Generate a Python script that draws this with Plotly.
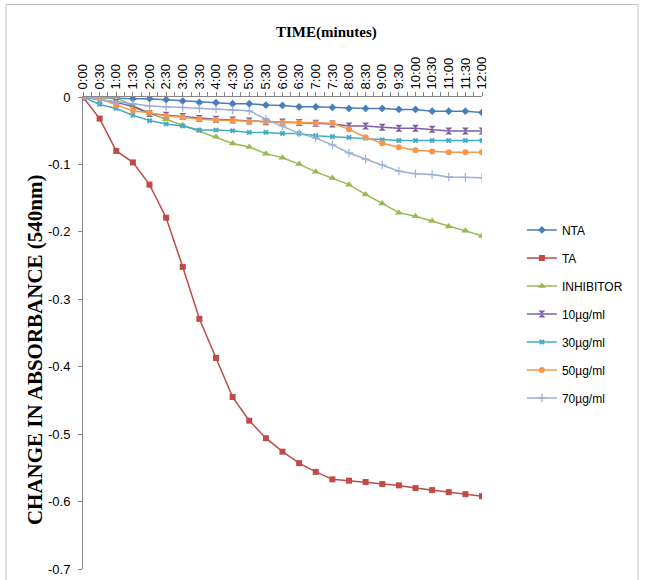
import plotly.graph_objects as go

# Time points, every 30 minutes from 0:00 to 12:00
time_labels = ["0:00", "0:30", "1:00", "1:30", "2:00", "2:30", "3:00", "3:30",
               "4:00", "4:30", "5:00", "5:30", "6:00", "6:30", "7:00", "7:30",
               "8:00", "8:30", "9:00", "9:30", "10:00", "10:30", "11:00",
               "11:30", "12:00"]

# Change in absorbance at 540 nm
nta = [0, -0.001, -0.0015, -0.0025, -0.0025, -0.004, -0.006, -0.008, -0.0085,
       -0.010, -0.010, -0.012, -0.0125, -0.0145, -0.0145, -0.0155, -0.017,
       -0.017, -0.017, -0.0185, -0.0185, -0.021, -0.021, -0.021, -0.023]
ta = [0, -0.032, -0.080, -0.097, -0.130, -0.179, -0.252, -0.329, -0.387,
      -0.445, -0.480, -0.506, -0.526, -0.543, -0.556, -0.567, -0.569, -0.571,
      -0.574, -0.576, -0.580, -0.583, -0.586, -0.589, -0.592]
inhibitor = [0, -0.001, -0.001, -0.013, -0.024, -0.033, -0.042, -0.050, -0.059,
             -0.069, -0.074, -0.084, -0.090, -0.0995, -0.111, -0.120, -0.130,
             -0.1445, -0.158, -0.1715, -0.177, -0.184, -0.192, -0.1985, -0.206]
c10 = [0, -0.004, -0.008, -0.014, -0.0245, -0.027, -0.029, -0.0318, -0.033,
       -0.034, -0.0357, -0.0367, -0.037, -0.0377, -0.039, -0.040, -0.043,
       -0.043, -0.045, -0.0465, -0.0465, -0.048, -0.0505, -0.0505, -0.0505]
c30 = [0, -0.011, -0.017, -0.027, -0.035, -0.040, -0.043, -0.049, -0.049,
       -0.050, -0.0525, -0.0525, -0.054, -0.054, -0.0573, -0.0588, -0.0598,
       -0.061, -0.0635, -0.0645, -0.0645, -0.0645, -0.0645, -0.0645, -0.0645]
c50 = [0, -0.0015, -0.012, -0.0205, -0.0235, -0.028, -0.030, -0.033, -0.034,
       -0.035, -0.0367, -0.0367, -0.0377, -0.038, -0.039, -0.039, -0.048,
       -0.0597, -0.0686, -0.0745, -0.079, -0.081, -0.082, -0.082, -0.082]
c70 = [0, -0.004, -0.007, -0.010, -0.0135, -0.0145, -0.0155, -0.017, -0.018,
       -0.0195, -0.0205, -0.033, -0.043, -0.054, -0.061, -0.071, -0.083,
       -0.092, -0.1005, -0.110, -0.1137, -0.115, -0.1186, -0.119, -0.1196]

y_tick_vals = [0, -0.1, -0.2, -0.3, -0.4, -0.5, -0.6, -0.7]
y_tick_text = ["0", "-0.1", "-0.2", "-0.3", "-0.4", "-0.5", "-0.6", "-0.7"]

x_idx = list(range(len(time_labels)))

series = [
    ("NTA", nta, "#4a7ebb", "diamond", 6, 0),
    ("TA", ta, "#be4b48", "square", 6, 0),
    ("INHIBITOR", inhibitor, "#98b954", "triangle-up", 7, 0),
    ("10µg/ml", c10, "#7d60a0", "hourglass", 7, 0),
    ("30µg/ml", c30, "#46aac5", "x", 5, 0),
    ("50µg/ml", c50, "#f79646", "circle", 6, 0),
    ("70µg/ml", c70, "#9aaed8", "cross-thin", 6, 1.2),
]

fig = go.Figure()
for i, (name, vals, color, sym, size, lw) in enumerate(series):
    marker = dict(symbol=sym, size=size, color=color)
    if lw:
        marker["line"] = dict(color=color, width=lw)
    fig.add_trace(go.Scatter(
        x=x_idx, y=vals, name=name, mode="lines+markers",
        line=dict(color=color, width=1.5), marker=marker,
        legendgroup="g%d" % i,
    ))

font_sans = "Liberation Sans, Arial, sans-serif"
font_serif = "Liberation Serif, Times New Roman, serif"

fig.update_layout(
    width=651, height=580,
    margin=dict(l=83, r=169, t=97, b=11),
    paper_bgcolor="white", plot_bgcolor="white",
    showlegend=True,
    legend=dict(
        x=1.1, y=0.749, xanchor="left", yanchor="top",
        font=dict(family=font_sans, size=12, color="#000000"),
        tracegroupgap=9, traceorder="grouped",
        bgcolor="rgba(0,0,0,0)",
    ),
    xaxis=dict(
        side="top", range=[0, 24], automargin=False,
        tickmode="array", tickvals=x_idx, ticktext=time_labels,
        tickangle=-90, ticks="outside", ticklen=4, tickcolor="#868686",
        minor=dict(tickmode="array",
                   tickvals=[i + 0.5 for i in x_idx[:-1]],
                   ticks="outside", ticklen=4, tickcolor="#868686"),
        showline=True, linecolor="#868686", linewidth=1,
        showgrid=False, zeroline=False,
        tickfont=dict(family=font_sans, size=13, color="#000000"),
    ),
    yaxis=dict(
        range=[-0.7, 0], automargin=False,
        tickmode="array", tickvals=y_tick_vals, ticktext=y_tick_text,
        ticks="outside", ticklen=4, tickcolor="#868686",
        ticklabelstandoff=5,
        showline=True, linecolor="#868686", linewidth=1,
        showgrid=False, zeroline=False,
        tickfont=dict(family=font_sans, size=13, color="#000000"),
    ),
    annotations=[
        dict(text="<b>TIME(minutes)</b>", xref="paper", yref="paper",
             x=0.611, y=1.137, xanchor="center", yanchor="middle",
             showarrow=False,
             font=dict(family=font_serif, size=15, color="#000000")),
        dict(text="<b>CHANGE IN ABSORBANCE (540nm)</b>", xref="paper",
             yref="paper", x=-0.12, y=0.464, xanchor="center",
             yanchor="middle", textangle=-90, showarrow=False,
             font=dict(family=font_serif, size=21, color="#000000")),
    ],
    shapes=[
        dict(type="rect", xref="paper", yref="paper",
             x0=-0.193, x1=1.391, y0=-0.05, y1=1.196,
             line=dict(color="#bfbfbf", width=1), layer="below"),
    ],
)

fig.write_html("out.html")
